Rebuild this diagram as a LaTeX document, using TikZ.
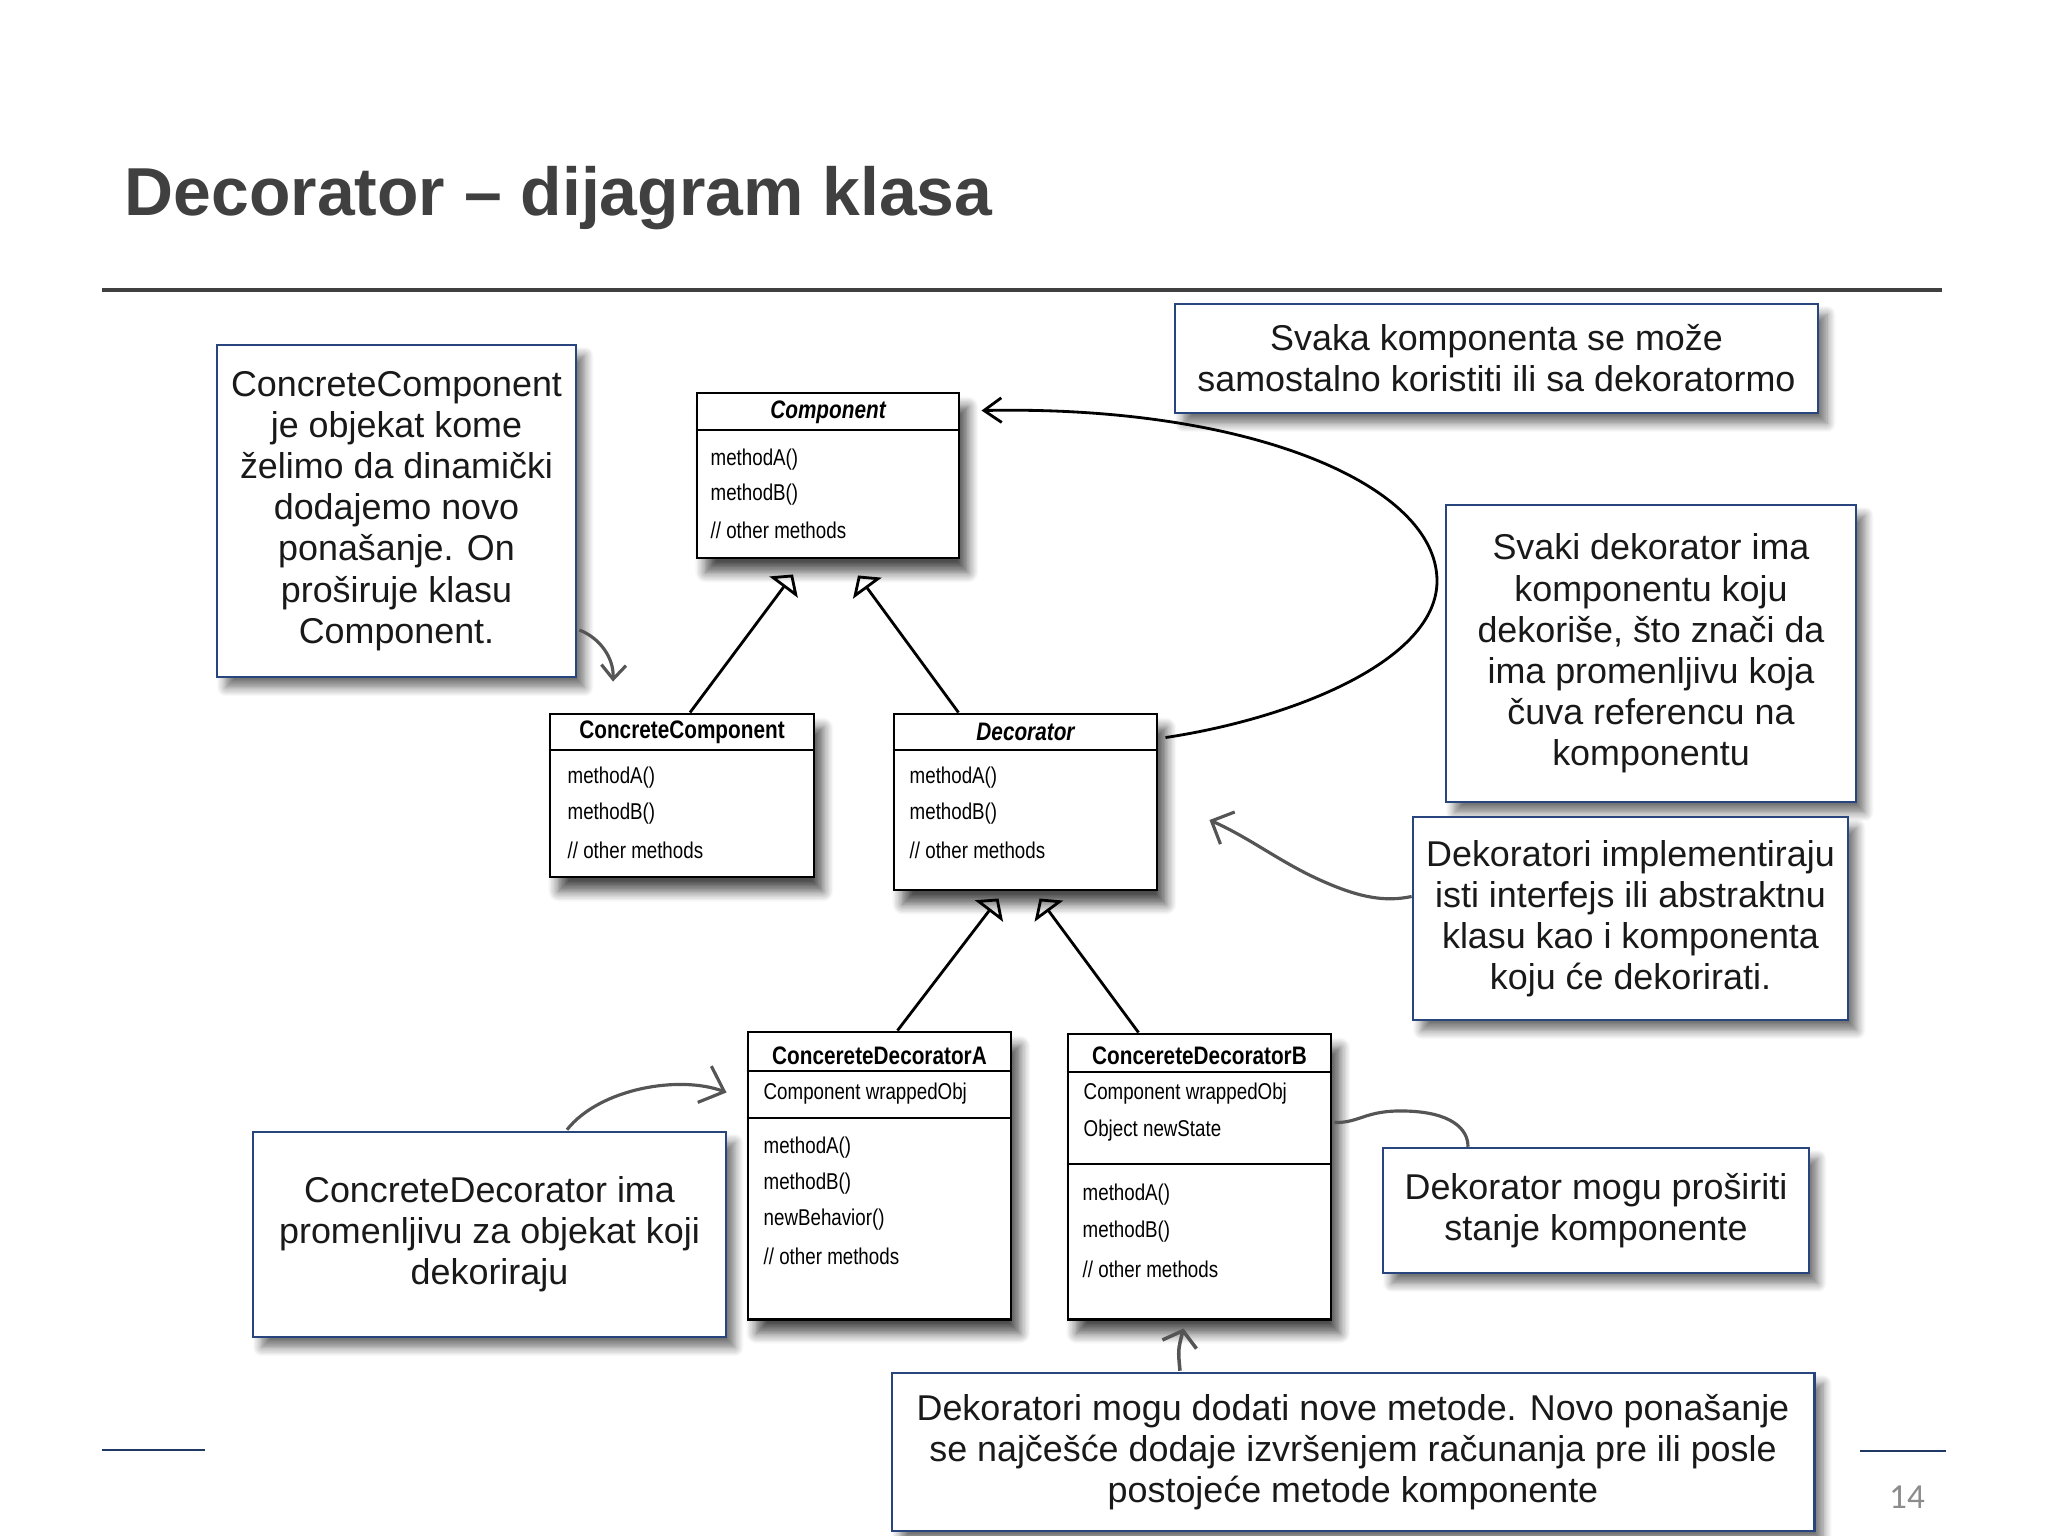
\documentclass[tikz,border=0pt]{standalone}
\usepackage{fontspec}
\setmainfont{Liberation Sans}
\newfontfamily\umlfont[FakeStretch=0.82]{Liberation Sans}
\newfontfamily\pagefont{Carlito}
\usetikzlibrary{shadows,shadows.blur}
\usetikzlibrary{arrows.meta,calc}

\definecolor{notebl}{RGB}{40,70,125}
\definecolor{titlegray}{RGB}{64,64,64}
\definecolor{handgray}{RGB}{85,85,85}
\definecolor{footblue}{RGB}{31,56,100}

\newcommand\umlhfont{\umlfont\bfseries\fontsize{7.2}{8.6}\selectfont}
\newcommand\umlmfont{\umlfont\fontsize{6.5}{7.8}\selectfont}
\newcommand\notefont{\fontsize{10.2}{11.7}\selectfont}
\def\othm{// other methods}

\tikzset{
	umlbox/.style={draw, line width=0.8pt, fill=white, inner sep=0pt,
		blur shadow={shadow xshift=2.5pt, shadow yshift=-4pt, shadow blur radius=3pt, shadow blur steps=8, shadow opacity=70}},
	umlline/.style={line width=0.8pt},
	umlhead/.style={font=\umlhfont, inner sep=0pt},
	umlmember/.style={font=\umlmfont, anchor=west, inner sep=0pt},
	note/.style={draw=notebl, line width=0.7pt, fill=white, inner sep=0pt, align=center,
		font=\notefont, text=black!90,
		blur shadow={shadow xshift=2.5pt, shadow yshift=-3pt, shadow blur radius=2.5pt, shadow blur steps=8, shadow opacity=55}},
	inherit/.style={line width=0.8pt, -{Triangle[open, length=4.5pt, width=10pt]}},
	assoc/.style={line width=0.8pt, -{Straight Barb[length=5pt, width=7pt]}},
	hand/.style={draw=handgray, line width=0.9pt}
}

\begin{document}
\begin{tikzpicture}[x=0.01cm, y=-0.01cm]
	\useasboundingbox (0,0) rectangle (2048,1536);

	% slide title and rules
	\node[anchor=base west, inner sep=0pt, text=titlegray, font=\bfseries\fontsize{19.3}{23}\selectfont] (title) at (124,215) {Decorator -- dijagram klasa};
	\draw[titlegray, line width=1.3pt] (102,290) -- (1942,290);
	\draw[footblue, line width=0.8pt] (102,1450) -- (205,1450);
	\draw[footblue, line width=0.8pt] (1860,1451) -- (1946,1451);
	\node[font=\pagefont\fontsize{10}{12}\selectfont, text=black!45] (pgnum) at (1907,1497) {14};

	% Component
	\node[umlbox, minimum width=2.62cm, minimum height=1.65cm] (comp) at (828,475.5) {};
	\draw[umlline] (comp.west |- 0,430) -- (comp.east |- 0,430);
	\node[umlhead] (comp-h) at (comp.center |- 0,412) {\itshape Component};
	\foreach \m [count=\i] in {methodA(), methodB(), \othm}
		\node[umlmember] (comp-\i) at (710,425+35*\i) {\m};

	% ConcreteComponent
	\node[umlbox, minimum width=2.64cm, minimum height=1.63cm] (ccomp) at (682,795.5) {};
	\draw[umlline] (ccomp.west |- 0,750) -- (ccomp.east |- 0,750);
	\node[umlhead] (ccomp-h) at (ccomp.center |- 0,732) {ConcreteComponent};
	\foreach \m [count=\i] in {methodA(), methodB(), \othm}
		\node[umlmember] (ccomp-\i) at (567,742+36*\i) {\m};

	% Decorator
	\node[umlbox, minimum width=2.63cm, minimum height=1.76cm] (dec) at (1025.5,802) {};
	\draw[umlline] (dec.west |- 0,750) -- (dec.east |- 0,750);
	\node[umlhead] (dec-h) at (dec.center |- 0,732) {\itshape Decorator};
	\foreach \m [count=\i] in {methodA(), methodB(), \othm}
		\node[umlmember] (dec-\i) at (909,742+36*\i) {\m};

	% ConcereteDecoratorA
	\node[umlbox, minimum width=2.63cm, minimum height=2.87cm] (cda) at (879.5,1175.5) {};
	\draw[umlline] (cda.west |- 0,1071) -- (cda.east |- 0,1071);
	\draw[umlline] (cda.west |- 0,1118) -- (cda.east |- 0,1118);
	\node[umlhead] (cda-h) at (cda.center |- 0,1056) {ConcereteDecoratorA};
	\node[umlmember] (cda-f1) at (763,1094) {Component wrappedObj};
	\foreach \m [count=\i] in {methodA(), methodB(), newBehavior(), \othm}
		\node[umlmember] (cda-\i) at (763,1112+36*\i) {\m};

	% ConcereteDecoratorB
	\node[umlbox, minimum width=2.63cm, minimum height=2.85cm] (cdb) at (1199.5,1176.5) {};
	\draw[umlline] (cdb.west |- 0,1072) -- (cdb.east |- 0,1072);
	\draw[umlline] (cdb.west |- 0,1164) -- (cdb.east |- 0,1164);
	\node[umlhead] (cdb-h) at (cdb.center |- 0,1056) {ConcereteDecoratorB};
	\foreach \f [count=\i] in {Component wrappedObj, Object newState}
		\node[umlmember] (cdb-f\i) at (1083,1057+37*\i) {\f};
	\foreach \m [count=\i] in {methodA(), methodB(), \othm}
		\node[umlmember] (cdb-\i) at (1082,1158+37*\i) {\m};

	% inheritance
	\draw[inherit] ($(ccomp.north)+(8,0)$) -- ($(comp.south)+(-35,15)$);
	\draw[inherit] ($(dec.north)+(-67,0)$) -- ($(comp.south)+(30,16)$);
	\draw[inherit] ($(cda.north)+(18,0)$) -- ($(dec.south)+(-27,7)$);
	\draw[inherit] ($(cdb.north)+(-61,0)$) -- ($(dec.south)+(14,7)$);

	% Decorator has a Component
	\draw[assoc] ($(dec.north east)+(7,25)$) .. controls (1295,718) and (1437,660) .. (1437,581)
		.. controls (1437,485) and (1250,405) .. ($(comp.north east)+(21,19)$);

	% notes
	\node[note, minimum width=6.43cm, minimum height=1.09cm] (cc1) at (1496.5,358.5) {Svaka komponenta se može\\samostalno koristiti ili sa dekoratormo};
	\node[note, minimum width=3.59cm, minimum height=3.32cm] (cc2) at (396.5,511) {ConcreteComponent\\je objekat kome\\želimo da dinamički\\dodajemo novo\\ponašanje. On\\proširuje klasu\\Component.};
	\node[note, minimum width=4.10cm, minimum height=2.97cm] (cc3) at (1651,653.5) {Svaki dekorator ima\\komponentu koju\\dekoriše, što znači da\\ima promenljivu koja\\čuva referencu na\\komponentu};
	\node[note, minimum width=4.35cm, minimum height=2.03cm] (cc4) at (1630.5,918.5) {Dekoratori implementiraju\\isti interfejs ili abstraktnu\\klasu kao i komponenta\\koju će dekorirati.};
	\node[note, minimum width=4.73cm, minimum height=2.05cm] (cc5) at (489.5,1234.5) {ConcreteDecorator ima\\promenljivu za objekat koji\\dekoriraju};
	\node[note, minimum width=4.26cm, minimum height=1.25cm] (cc6) at (1596,1210.5) {Dekorator mogu proširiti\\stanje komponente};
	\node[note, minimum width=9.22cm, minimum height=1.58cm] (cc7) at (1353,1452) {Dekoratori mogu dodati nove metode. Novo ponašanje\\se najčešće dodaje izvršenjem računanja pre ili posle\\postojeće metode komponente};

	% hand drawn pointers
	\draw[hand, -{Straight Barb[length=4pt, width=7pt]}] ($(cc2.east)+(2,119)$) .. controls (600,638) and (614,658) .. ($(ccomp.north)+(-69,-31)$);
	\draw[hand, -{Straight Barb[length=6pt, width=11pt]}] ($(cc5.north)+(77.5,-1)$) .. controls (600,1088) and (680,1075) .. ($(cda.north west)+(-20,62)$);
	\draw[hand, -{Straight Barb[length=5pt, width=10pt]}] ($(cc4.west)+(0,-22)$) .. controls (1385,902) and (1360,898) .. (1320,880)
		.. controls (1280,862) and (1250,838) .. ($(dec.east)+(51,18)$);
	\draw[hand] ($(cc6.north)+(-128,0)$) .. controls (1468,1128) and (1450,1112) .. (1405,1111)
		.. controls (1365,1110) and (1360,1123) .. ($(cdb.east)+(2,-54)$);
	\draw[hand, line width=1pt, -{Straight Barb[length=4pt, width=10pt]}] ($(cc7.north)+(-173,-1)$) .. controls (1178,1350) .. ($(cdb.south)+(-16,8)$);
\end{tikzpicture}
\end{document}
